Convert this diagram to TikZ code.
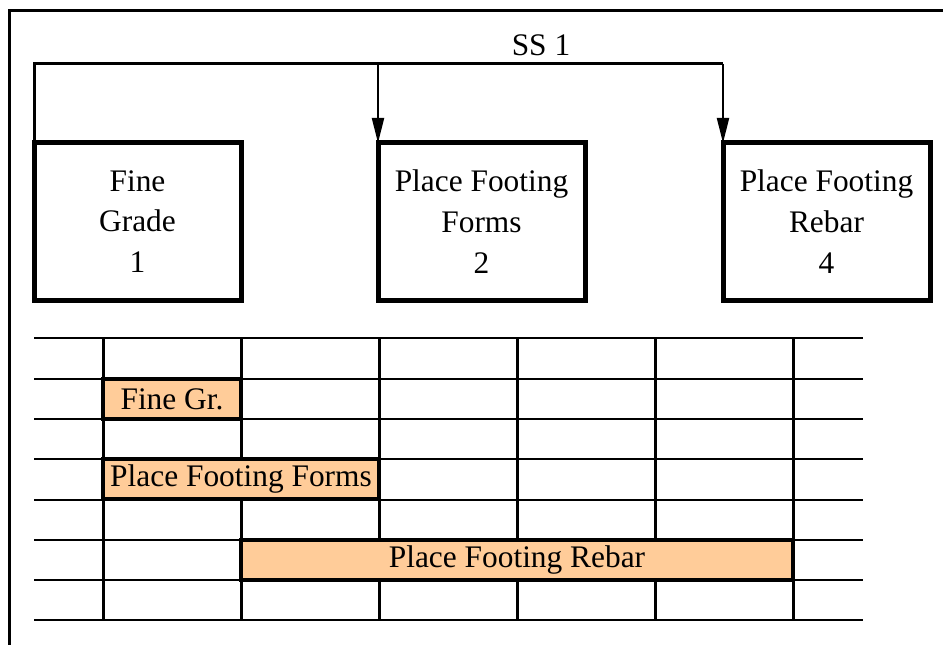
\documentclass[tikz,border=0pt]{standalone}
\usepackage{fontspec}
\setmainfont{Liberation Serif}
\usetikzlibrary{arrows.meta}
\definecolor{barfill}{HTML}{FFCC99}
\begin{document}
\begin{tikzpicture}[x=1bp,y=-1bp,
  every node/.style={font=\rmfamily\fontsize{31.5}{41}\selectfont},
  actbox/.style={draw,line width=5bp,outer sep=0pt,minimum width=207bp,minimum height=157bp,align=center,inner sep=0pt},
  ganttbar/.style={draw,line width=4bp,fill=barfill,outer sep=0pt,minimum height=40bp,inner sep=0pt},
  gridh/.style={line width=1.2bp},
  gridv/.style={line width=3bp},
  ssline/.style={line width=3bp},
  ssarrow/.style={line width=2bp,-{Triangle[length=25bp,width=12bp]}},
  frameline/.style={line width=3bp}]
\useasboundingbox (0,0) rectangle (943,645);

% outer frame (top and left edges)
\coordinate (frBL) at (9,645);
\coordinate (frTL) at (9,11);
\coordinate (frTR) at (943,11);
\draw[frameline] (frBL) -- (frTL) -- (frTR);

% activity boxes
\node[actbox,anchor=north west] (f1) at (34,143) {Fine\\Grade\\1};
\node[actbox,anchor=north west] (f2) at (378,143) {Place Footing\\Forms\\2};
\node[actbox,anchor=north west] (f4) at (723,143) {Place Footing\\Rebar\\4};

% start-to-start link
\coordinate (ssL) at (34,64);
\coordinate (ssR) at (723,64);
\draw[ssline] (f1.north west) -- (ssL) -- (ssR);
\node (sslabel) at (541,45) {SS 1};
\draw[ssarrow] (f2.north west |- ssL) -- (f2.north west);
\draw[ssarrow] (ssR) -- (f4.north west);

% schedule grid
\foreach \y in {338,379,419,459,500,540,580,620}
  \draw[gridh] (34,\y) -- (863,\y);
\foreach \x in {103,241,379,517,655,793}
  \draw[gridv] (\x,338) -- (\x,620);

% schedule bars
\node[ganttbar,anchor=north west,minimum width=138bp] (b1) at (103,379) {Fine Gr.};
\node[ganttbar,anchor=north west,minimum width=276bp] (b2) at (103,459) {Place Footing Forms};
\node[ganttbar,anchor=north west,minimum width=552bp] (b4) at (241,540) {Place Footing Rebar};
\end{tikzpicture}
\end{document}
